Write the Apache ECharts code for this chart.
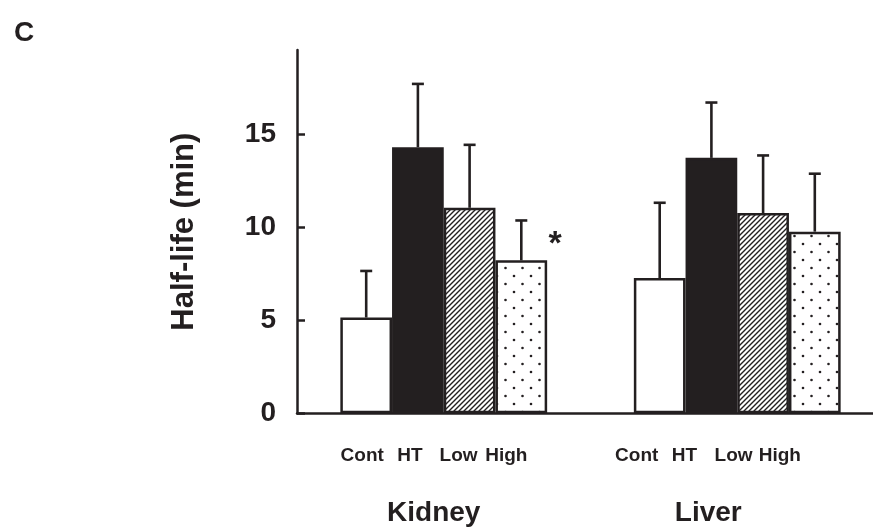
<!DOCTYPE html>
<html>
<head>
	<meta charset="utf-8">
</head>
<body style="margin: 0; background-color: #fff;">
<div id="container" style="width: 873px; height: 528px"></div>
<script type="text/javascript" src="https://cdn.jsdelivr.net/npm/echarts@6/dist/echarts.min.js"></script>
<script type="text/javascript">
	var organs = ['Kidney', 'Liver'];
	var groups = ['Cont', 'HT', 'Low', 'High'];
	// mean half-life (min), [Kidney, Liver]
	var meanCont = [5.14, 7.26];
	var meanHT = [14.28, 13.71];
	var meanLow = [11.03, 10.75];
	var meanHigh = [8.21, 9.75];
	// top of the error bar, [Kidney, Liver]
	var errCont = [7.64, 11.3];
	var errHT = [17.68, 16.68];
	var errLow = [14.41, 13.84];
	var errHigh = [10.35, 12.86];
	var yTicks = [0, 5, 10, 15];
	// significance marks: [organ index, group index, text]
	var sigMarks = [[0, 3, '*']];

	var INK = '#231f20';
	var FONT = '"Liberation Sans", Arial, Helvetica, sans-serif';
	var BAR_W = 51.7;
	// label nudges so the group names sit like in the figure
	var subShift = [[-4, -8, -11, -15], [-23, -27, -29.5, -35]];

	function hatchPattern() {
		var c = document.createElement('canvas');
		c.width = 5; c.height = 5;
		var g = c.getContext('2d');
		g.fillStyle = '#fff';
		g.fillRect(0, 0, 5, 5);
		g.strokeStyle = INK;
		g.lineWidth = 1.4;
		g.beginPath();
		g.moveTo(-1, 6); g.lineTo(6, -1);
		g.moveTo(-1, 1); g.lineTo(1, -1);
		g.moveTo(4, 6); g.lineTo(6, 4);
		g.stroke();
		return { image: c, repeat: 'repeat' };
	}
	function dotPattern() {
		var c = document.createElement('canvas');
		c.width = 17; c.height = 16;
		var g = c.getContext('2d');
		g.fillStyle = '#fff';
		g.fillRect(0, 0, 17, 16);
		g.fillStyle = INK;
		g.beginPath(); g.arc(4, 4, 1.3, 0, Math.PI * 2); g.fill();
		g.beginPath(); g.arc(12.5, 12, 1.3, 0, Math.PI * 2); g.fill();
		return { image: c, repeat: 'repeat' };
	}

	var means = [meanCont, meanHT, meanLow, meanHigh];
	var errs = [errCont, errHT, errLow, errHigh];
	var fills = ['#fff', INK, hatchPattern(), dotPattern()];

	var barSeries = groups.map(function(name, gi) {
		return {
			name: name,
			type: 'bar',
			barWidth: BAR_W,
			barGap: '0%',
			z: 3,
			itemStyle: { color: fills[gi], borderColor: INK, borderWidth: 2.5 },
			label: {
				show: true,
				position: 'bottom',
				distance: 33,
				formatter: name,
				color: INK,
				fontFamily: FONT,
				fontWeight: 'bold',
				fontSize: 19
			},
			emphasis: { disabled: true },
			data: means[gi].map(function(v, oi) {
				return { value: v, label: { offset: [subShift[oi][gi], 0] } };
			})
		};
	});

	var errData = [];
	groups.forEach(function(name, gi) {
		organs.forEach(function(o, oi) {
			errData.push([oi, gi, means[gi][oi], errs[gi][oi]]);
		});
	});

	var sigData = sigMarks.map(function(m) {
		return [m[0], m[1], means[m[1]][m[0]], m[2]];
	});

	var dom = document.getElementById('container');
	var myChart = echarts.init(dom);
	var option = {
		animation: false,
		title: {
			text: 'C',
			left: 9,
			top: 14,
			textStyle: { color: INK, fontFamily: FONT, fontWeight: 'bold', fontSize: 28 }
		},
		grid: { left: 297, top: 50, width: 587, bottom: 114.7, outerBoundsMode: 'none', containLabel: false },
		xAxis: {
			type: 'category',
			data: [
				{ value: organs[0], textStyle: { padding: [0, 20, 0, 0] } },
				{ value: organs[1], textStyle: { padding: [0, 58, 0, 0] } }
			],
			axisLine: { lineStyle: { color: INK, width: 2.5 } },
			axisTick: { show: false },
			axisLabel: {
				margin: 86,
				color: INK,
				fontFamily: FONT,
				fontWeight: 'bold',
				fontSize: 28
			},
			splitLine: { show: false }
		},
		yAxis: {
			type: 'value',
			min: 0,
			max: 19.5,
			interval: 5,
			name: 'Half-life (min)',
			nameLocation: 'middle',
			nameGap: 97,
			nameTextStyle: { color: INK, fontFamily: FONT, fontWeight: 'bold', fontSize: 31 },
			axisLine: { show: true, lineStyle: { color: INK, width: 2.5 } },
			axisTick: { show: true, inside: true, length: 8, customValues: yTicks, lineStyle: { color: INK, width: 2.5 } },
			axisLabel: {
				customValues: yTicks,
				margin: 21,
				color: INK,
				fontFamily: FONT,
				fontWeight: 'bold',
				fontSize: 28
			},
			splitLine: { show: false }
		},
		series: barSeries.concat([{
			type: 'custom',
			z: 2,
			silent: true,
			data: errData,
			renderItem: function(params, api) {
				var top = api.coord([api.value(0), api.value(3)]);
				var base = api.coord([api.value(0), api.value(2)]);
				var x = top[0] + (api.value(1) - 1.5) * BAR_W;
				var st = { stroke: INK, lineWidth: 2.6 };
				return {
					type: 'group',
					children: [
						{ type: 'line', shape: { x1: x, y1: base[1], x2: x, y2: top[1] }, style: st },
						{ type: 'line', shape: { x1: x - 6, y1: top[1], x2: x + 6, y2: top[1] }, style: st }
					]
				};
			}
		}, {
			type: 'custom',
			z: 4,
			silent: true,
			data: sigData,
			renderItem: function(params, api) {
				var p = api.coord([api.value(0), api.value(2)]);
				var x = p[0] + (api.value(1) - 1.5) * BAR_W + BAR_W / 2 + 8;
				return {
					type: 'text',
					style: {
						x: x,
						y: p[1] - 16,
						text: sigData[params.dataIndex][3],
						fill: INK,
						font: 'bold 34px ' + FONT,
						textAlign: 'center',
						textVerticalAlign: 'middle'
					}
				};
			}
		}])
	};
	myChart.setOption(option);
</script>
</body>
</html>
